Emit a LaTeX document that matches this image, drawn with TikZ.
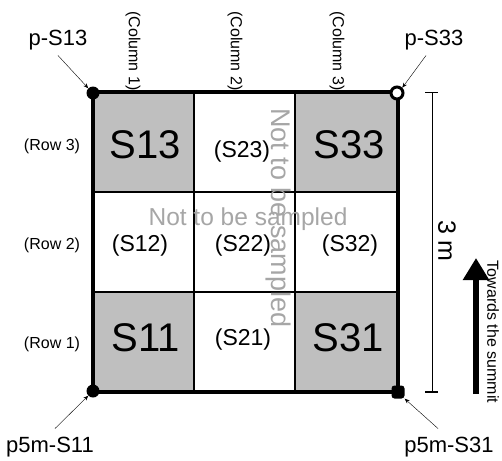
\documentclass[tikz,border=0pt]{standalone}
\usepackage{fontspec}
\setmainfont{Liberation Sans}
\usetikzlibrary{arrows.meta}
\begin{document}
\begin{tikzpicture}[x=1pt,y=-1pt,
  cellsamp/.style={fill=black!25},
  big/.style={font=\fontsize{40}{40}\selectfont},
  small/.style={font=\fontsize{23}{23}\selectfont},
  lab/.style={font=\fontsize{16}{16}\selectfont},
  corner/.style={font=\fontsize{22}{22}\selectfont},
  ghost/.style={text=black!35,font=\fontsize{24.5}{24.5}\selectfont},
  ghostv/.style={text=black!35,font=\fontsize{27}{27}\selectfont},
  pointer/.style={thin,-{Stealth[length=5pt,width=4pt]}}]
\useasboundingbox (0,0) rectangle (502,460);
% shaded cells
\fill[cellsamp] (93,92) rectangle (194,192);
\fill[cellsamp] (295,92) rectangle (398,192);
\fill[cellsamp] (93,292) rectangle (194,392);
\fill[cellsamp] (295,292) rectangle (398,392);
% grid lines
\draw[line width=1.2pt] (194,92) -- (194,392) (295,92) -- (295,392)
  (93,192) -- (398,192) (93,292) -- (398,292);
\draw[line width=3.5pt] (93,92) rectangle (398,392);
% ghost texts
\node[ghost] (nh) at (248,219) {Not to be sampled};
\node[ghostv,rotate=-90] (nv) at (278,218) {Not to be sampled};
% cell labels
\node[big] (s13) at (145,145) {S13};
\node[small] (s23) at (242,152) {(S23)};
\node[big] (s33) at (349,145) {S33};
\node[small] (s12) at (140,246) {(S12)};
\node[small] (s22) at (243,246) {(S22)};
\node[small] (s32) at (350,246) {(S32)};
\node[big] (s11) at (146,338) {S11};
\node[small] (s21) at (243,340) {(S21)};
\node[big] (s31) at (348,338) {S31};
% row / column labels
\node[lab] (r3) at (52,146) {(Row 3)};
\node[lab] (r2) at (52,245) {(Row 2)};
\node[lab] (r1) at (52,344) {(Row 1)};
\node[lab,rotate=-90] (c1) at (133,51) {(Column 1)};
\node[lab,rotate=-90] (c2) at (235,51) {(Column 2)};
\node[lab,rotate=-90] (c3) at (337,51) {(Column 3)};
% corner markers
\node[circle,fill=black,inner sep=0pt,minimum size=13pt] (k13) at (93,93) {};
\node[circle,draw=black,line width=3pt,fill=white,inner sep=0pt,minimum size=12pt] (k33) at (397,93) {};
\node[circle,fill=black,inner sep=0pt,minimum size=13pt] (k11) at (93,391) {};
\node[rectangle,fill=black,rounded corners=3pt,inner sep=0pt,minimum size=13pt] (k31) at (398,392) {};
% corner labels
\node[corner] (p13) at (58,40) {p-S13};
\node[corner] (p33) at (434,40) {p-S33};
\node[corner] (p11) at (50,447) {p5m-S11};
\node[corner] (p31) at (449,447) {p5m-S31};
\draw[pointer] (p13.south) ++(0,2) -- (k13.north west);
\draw[pointer] (p33.south) ++(-8,2) -- (k33.north east);
\draw[pointer] (p11.north) ++(5,-5) -- (k11.south west);
\draw[pointer] (p31.north) ++(-11,-5) -- (k31.south east);
% dimension
\coordinate (dt) at (432,92);
\coordinate (db) at (432,392);
\draw[thin] (dt) -- (db);
\draw[line width=1pt] (425,92) -- (438,92);
\draw[line width=2.5pt] (425,392) -- (438,392);
\node[font=\fontsize{25}{25}\selectfont,rotate=-90] (dim) at (447,241) {3 m};
% summit arrow
\coordinate (ab) at (476,394);
\coordinate (at) at (476,258);
\draw[line width=6pt,-{Triangle[length=22pt,width=25pt]}] (ab) -- (at);
\node[font=\fontsize{16}{16}\selectfont,rotate=-90,inner sep=1pt] (tw) at (493,332) {Towards the summit};
\end{tikzpicture}
\end{document}
